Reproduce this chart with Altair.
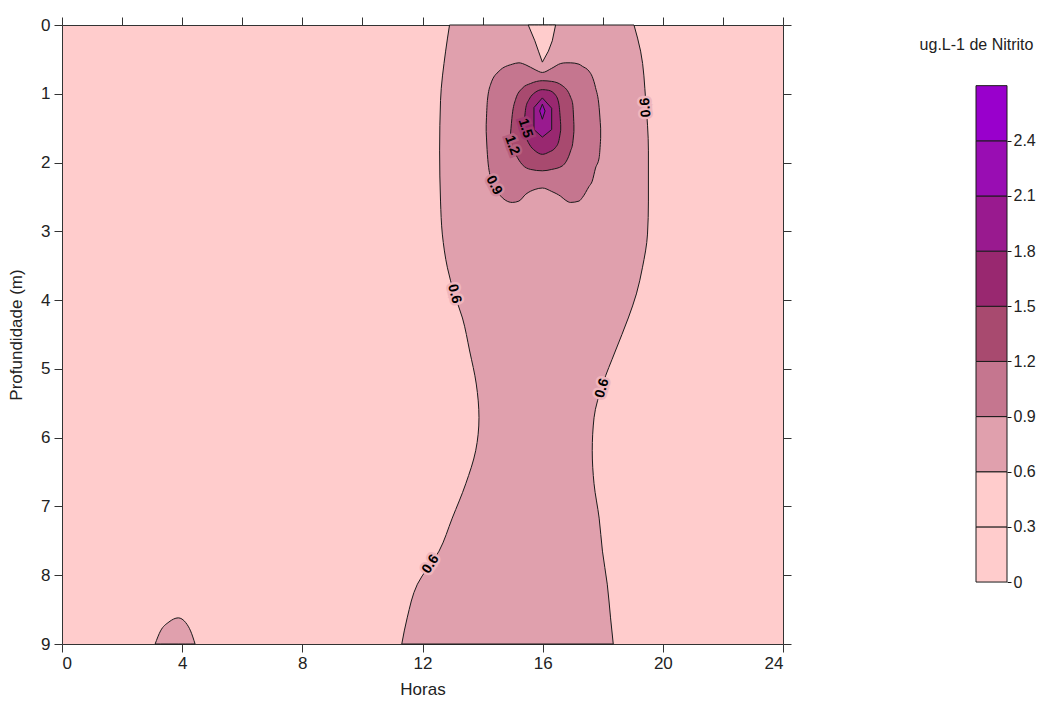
import altair as alt
import pandas as pd

FONT = "Liberation Sans, Arial, sans-serif"
LINE = "#1a1a1a"

# Contour levels (ug/L of nitrite) and the fill used between consecutive levels
level_edges = [0, 0.3, 0.6, 0.9, 1.2, 1.5, 1.8, 2.1, 2.4, 2.7]
level_colors = ["#FFCCCC", "#FFCCCC", "#E0A0AD", "#C5768F", "#A84A6F",
                "#992870", "#991A8F", "#990DB3", "#9900CC"]

# 0.6 isoline of the main plume: left / right edge (hours) at each depth (m)
band_depth = [0, 0.38, 1.1, 1.83, 2.56, 3.04, 3.53, 3.91, 4.26, 4.74, 5.22,
              5.71, 6.19, 6.67, 7.17, 7.65, 8.13, 8.62, 9.0]
band_left = [12.9, 12.77, 12.6, 12.57, 12.6, 12.66, 12.83, 13.06, 13.33, 13.57,
             13.79, 13.88, 13.77, 13.44, 12.99, 12.55, 11.83, 11.49, 11.31]
band_right = [19.04, 19.26, 19.43, 19.52, 19.52, 19.49, 19.32, 19.12, 18.85,
              18.42, 18.0, 17.71, 17.65, 17.71, 17.88, 17.99, 18.15, 18.26, 18.35]

# Lower-concentration tongue entering the plume from the surface near 16 h
notch_hour = [15.52, 15.74, 15.86, 15.99, 16.19, 16.32, 16.43]
notch_depth = [0, 0.23, 0.38, 0.54, 0.38, 0.23, 0]

# Small 0.6 patch at the bottom around 4 h
patch_hour = [3.1, 3.28, 3.56, 3.87, 4.12, 4.28, 4.43]
patch_top = [9.0, 8.81, 8.68, 8.62, 8.69, 8.81, 9.0]

# Closed isolines of the subsurface maximum: top / bottom depth at each hour
ring09_hour = [14.12, 14.16, 14.27, 14.55, 14.99, 15.21, 15.44, 15.75, 15.99,
               16.3, 16.6, 16.77, 16.93, 17.21, 17.32, 17.54, 17.65, 17.76,
               17.88, 17.93]
ring09_top = [1.45, 1.10, 0.86, 0.67, 0.57, 0.55, 0.58, 0.65, 0.69, 0.63, 0.56,
              0.55, 0.55, 0.57, 0.60, 0.67, 0.75, 0.91, 1.2, 1.5]
ring09_bottom = [1.55, 1.88, 2.22, 2.46, 2.58, 2.56, 2.46, 2.39, 2.37, 2.42,
                 2.49, 2.55, 2.58, 2.56, 2.51, 2.35, 2.27, 2.08, 1.93, 1.65]

ring12_hour = [14.93, 14.99, 15.1, 15.32, 15.6, 15.99, 16.3, 16.65, 16.93, 17.0, 17.04]
ring12_top = [1.58, 1.3, 1.08, 0.92, 0.85, 0.81, 0.82, 0.88, 1.05, 1.15, 1.45]
ring12_bottom = [1.62, 1.78, 1.88, 2.03, 2.1, 2.12, 2.1, 2.05, 1.83, 1.72, 1.55]

ring15_hour = [15.38, 15.44, 15.55, 15.75, 15.99, 16.2, 16.43, 16.54, 16.6]
ring15_top = [1.47, 1.2, 1.08, 0.98, 0.94, 0.95, 1.02, 1.15, 1.45]
ring15_bottom = [1.52, 1.62, 1.73, 1.83, 1.88, 1.85, 1.78, 1.68, 1.53]

ring18_hour = [15.71, 15.99, 16.3]
ring18_top = [1.2, 1.06, 1.21]
ring18_bottom = [1.52, 1.63, 1.52]

ring21_hour = [15.9, 15.99, 16.08]
ring21_top = [1.25, 1.15, 1.25]
ring21_bottom = [1.25, 1.37, 1.25]

# Inline contour labels (with the fill colour that masks the isoline behind them)
label_text = ["0.6", "0.6", "0.6", "0.6", "0.9", "1.2", "1.5"]
label_hour = [13.06, 17.98, 12.27, 19.43, 14.38, 14.98, 15.42]
label_depth = [3.91, 5.28, 7.84, 1.2, 2.33, 1.75, 1.5]
label_angle = [75, 287, 303, 266, 63, 70, 72]
label_mask = ["#EFB6BD", "#EFB6BD", "#EFB6BD", "#EFB6BD", "#D28B9E", "#B6607F", "#A03A70"]

x_scale = alt.Scale(domain=[0, 24], nice=False, zero=False)
y_scale = alt.Scale(domain=[0, 9], reverse=True, nice=False, zero=False)

axis_common = dict(grid=False, domainColor="#333333", tickColor="#333333",
                   labelColor="#222222", titleColor="#222222", labelFont=FONT,
                   titleFont=FONT, labelFontSize=17, titleFontSize=17,
                   titleFontWeight="normal", tickSize=8, domainWidth=1, tickWidth=1)

x_bottom = alt.Axis(title="Horas", values=list(range(0, 25, 4)), labelPadding=3,
                    titlePadding=10, **axis_common)
y_left = alt.Axis(title="Profundidade (m)", values=list(range(10)), labelPadding=4,
                  titleX=-46, titleBaseline="middle", **axis_common)
x_top = alt.Axis(orient="top", title=None, labels=False, values=list(range(0, 25, 2)),
                 **axis_common)
y_right = alt.Axis(orient="right", title=None, labels=False, values=list(range(10)),
                   **axis_common)

# Main 0.6 band (depth-oriented area)
band_df = pd.DataFrame({"depth": band_depth, "left": band_left, "right": band_right})
band = alt.Chart(band_df).mark_area(
    orient="horizontal", interpolate="monotone", fill=level_colors[2],
    stroke=LINE, strokeWidth=1, fillOpacity=1
).encode(
    y=alt.Y("depth:Q", scale=y_scale, axis=y_left),
    x=alt.X("left:Q", scale=x_scale, axis=x_bottom),
    x2="right:Q",
)


def hour_area(hours, top, bottom, color, interp="monotone"):
    df = pd.DataFrame({"hour": hours, "top": top, "bottom": bottom})
    return alt.Chart(df).mark_area(
        orient="vertical", interpolate=interp, fill=color, stroke=LINE,
        strokeWidth=1, fillOpacity=1
    ).encode(
        x=alt.X("hour:Q", scale=x_scale, axis=None),
        y=alt.Y("top:Q", scale=y_scale, axis=None),
        y2="bottom:Q",
    )


notch = hour_area(notch_hour, [0] * len(notch_hour), notch_depth, level_colors[1], "linear")
patch = hour_area(patch_hour, patch_top, [9] * len(patch_hour), level_colors[2])
ring09 = hour_area(ring09_hour, ring09_top, ring09_bottom, level_colors[3])
ring12 = hour_area(ring12_hour, ring12_top, ring12_bottom, level_colors[4])
ring15 = hour_area(ring15_hour, ring15_top, ring15_bottom, level_colors[5])
ring18 = hour_area(ring18_hour, ring18_top, ring18_bottom, level_colors[6], "linear")
ring21 = hour_area(ring21_hour, ring21_top, ring21_bottom, level_colors[7], "linear")

label_df = pd.DataFrame({"label": label_text, "hour": label_hour, "depth": label_depth,
                         "angle": label_angle, "mask": label_mask})
label_base = alt.Chart(label_df).encode(
    x=alt.X("hour:Q", scale=x_scale, axis=None),
    y=alt.Y("depth:Q", scale=y_scale, axis=None),
    text="label:N",
    angle=alt.Angle("angle:Q", scale=None),
)
# Mask that interrupts the isoline under each label
label_mask_layer = label_base.mark_text(
    font=FONT, fontSize=14, fontWeight="bold", strokeWidth=5,
    baseline="middle", align="center"
).encode(stroke=alt.Stroke("mask:N", scale=None), fill=alt.Fill("mask:N", scale=None))
labels = label_base.mark_text(
    font=FONT, fontSize=14, fontWeight="bold",
    color="#000000", baseline="middle", align="center"
).encode(
    x=alt.X("hour:Q", scale=x_scale, axis=x_top),
    y=alt.Y("depth:Q", scale=y_scale, axis=y_right),
)

main = alt.layer(
    band, notch, patch, ring09, ring12, ring15, ring18, ring21, label_mask_layer, labels
).resolve_axis(x="independent", y="independent").properties(
    width=721, height=619, view=alt.ViewBackground(fill=level_colors[0], stroke=None)
)

# Colour bar legend
legend_df = pd.DataFrame({"lo": level_edges[:-1], "hi": level_edges[1:],
                          "color": level_colors})
legend = alt.Chart(
    legend_df,
    title=alt.Title("ug.L-1 de Nitrito", font=FONT, fontSize=16, fontWeight="normal",
                    color="#222222", anchor="middle", frame="group", offset=-21,
                    baseline="middle", dx=-15, dy=15),
).mark_rect(stroke=LINE, strokeWidth=1).encode(
    y=alt.Y("lo:Q", scale=alt.Scale(domain=[-0.337, 3.03], nice=False, zero=False),
            axis=alt.Axis(orient="right", values=level_edges[:-1], domain=False, grid=False,
                          tickSize=4, tickColor="#111111", labelPadding=2, labelFont=FONT,
                          labelFontSize=16, labelColor="#222222", title=None,
                          labelExpr="datum.value == 0 ? '0' : format(datum.value, '.1f')")),
    y2="hi:Q",
    color=alt.Color("color:N", scale=None),
).properties(width=31, height=619, view=alt.ViewBackground(stroke=None))

chart = alt.hconcat(main, legend, spacing=193, bounds="flush").properties(
    padding={"left": 7, "top": 16, "right": 5, "bottom": 5},
    background="white",
)

chart.save("out.html", embed_options={"renderer": "svg", "actions": False})
